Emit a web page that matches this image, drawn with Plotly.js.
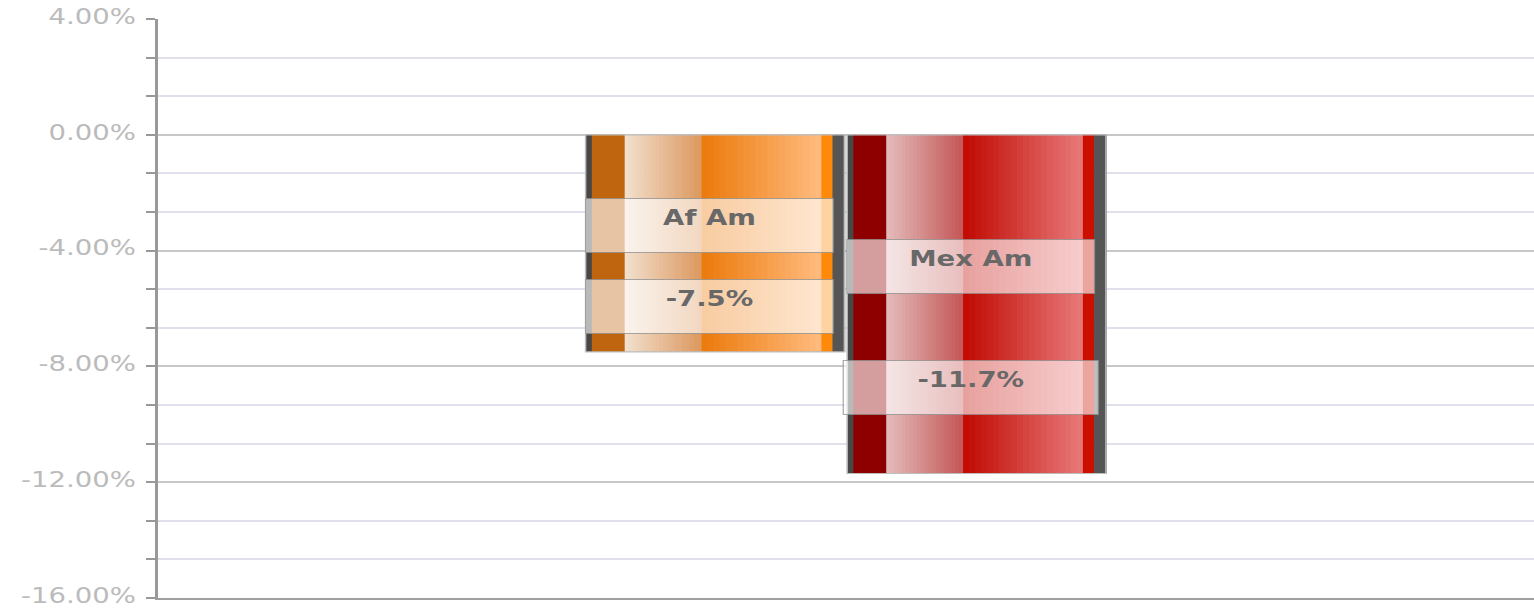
<!DOCTYPE html>
<html>
<head>
<meta charset="utf-8">
<script src="https://cdn.plot.ly/plotly-3.0.1.min.js"></script>
<style>
  html, body { margin: 0; padding: 0; background: #ffffff; overflow: hidden; }
  #chart { width: 1227px; height: 609px; transform-origin: 0 0; }
</style>
</head>
<body>
<div id="chart"></div>
<script>
// ---------------- DATA ----------------
const categories = ['Af Am', 'Mex Am'];
const values = [-7.5, -11.7];
const valueLabels = ['-7.5%', '-11.7%'];
const yTickValues = [4, 0, -4, -8, -12, -16];

// ---------------- STYLE ----------------
const STRETCH = 1534 / 1227;               // horizontal stretch of the original rendering
document.getElementById('chart').style.transform = 'scaleX(' + STRETCH + ')';

const barWidth = 0.188;
const barOffsets = [-0.189, 0.001];
// stripe layout of each bar (fractions of bar width), gradients given by from/to colours
const stripeStyles = [
  [
    {f0: 0.000, f1: 0.024, c: '#474747'},
    {f0: 0.024, f1: 0.151, c: '#c0650f'},
    {f0: 0.151, f1: 0.448, c: '#f2e0ce', c2: '#dc985e'},
    {f0: 0.448, f1: 0.911, c: '#ec790a', c2: '#ffbc80'},
    {f0: 0.911, f1: 0.954, c: '#ff8a0a'},
    {f0: 0.954, f1: 1.000, c: '#555555'}
  ],
  [
    {f0: 0.000, f1: 0.024, c: '#474747'},
    {f0: 0.024, f1: 0.151, c: '#8e0000'},
    {f0: 0.151, f1: 0.448, c: '#e4bcbc', c2: '#c45656'},
    {f0: 0.448, f1: 0.911, c: '#c00800', c2: '#e87a7a'},
    {f0: 0.911, f1: 0.954, c: '#cc1000'},
    {f0: 0.954, f1: 1.000, c: '#555555'}
  ]
];
const nameLabelFrac = [0.417, 0.388];
const valueLabelFrac = [0.79, 0.745];
const labelWidths = [[185, 185], [185, 191]];

function hexToRgb(h) {
  const n = parseInt(h.slice(1), 16);
  return [(n >> 16) & 255, (n >> 8) & 255, n & 255];
}
function lerpColor(a, b, t) {
  const A = hexToRgb(a), B = hexToRgb(b);
  const r = A.map((v, i) => Math.round(v + (B[i] - v) * t));
  return 'rgb(' + r.join(',') + ')';
}

const traces = [];
categories.forEach((cat, i) => {
  stripeStyles[i].forEach(seg => {
    const n = seg.c2 ? 20 : 1;
    for (let k = 0; k < n; k++) {
      const f0 = seg.f0 + (seg.f1 - seg.f0) * k / n;
      const f1 = seg.f0 + (seg.f1 - seg.f0) * (k + 1) / n;
      const col = seg.c2 ? lerpColor(seg.c, seg.c2, (k + 0.5) / n) : seg.c;
      traces.push({
        type: 'bar', x: [0], y: [values[i]], name: cat,
        offset: barOffsets[i] + f0 * barWidth,
        width: (f1 - f0) * barWidth + 0.0006,
        marker: {color: col, line: {width: 0}},
        hoverinfo: 'skip', showlegend: false
      });
    }
  });
  // outline
  traces.push({
    type: 'bar', x: [0], y: [values[i]], name: cat,
    offset: barOffsets[i], width: barWidth,
    marker: {color: 'rgba(0,0,0,0)', line: {color: '#bdbdbd', width: 1.2}},
    hoverinfo: 'skip', showlegend: false
  });
});

const annotations = [];
categories.forEach((cat, i) => {
  const xc = barOffsets[i] + 0.479 * barWidth;
  const common = {
    xref: 'x', yref: 'y', x: xc, showarrow: false,
    bgcolor: 'rgba(255,255,255,0.62)', bordercolor: 'rgba(140,140,140,0.75)',
    borderwidth: 1, borderpad: 6, height: 41, valign: 'top',
    font: {family: 'DejaVu Sans', size: 22, color: '#686868', weight: 'bold'}
  };
  annotations.push(Object.assign({}, common, {
    y: values[i] * nameLabelFrac[i], text: '<b>' + cat + '</b>', width: labelWidths[i][0]
  }));
  annotations.push(Object.assign({}, common, {
    y: values[i] * valueLabelFrac[i], text: '<b>' + valueLabels[i] + '</b>', width: labelWidths[i][1]
  }));
});

const layout = {
  width: 1227, height: 609,
  margin: {l: 126, r: 0, t: 19, b: 11, pad: 0},
  paper_bgcolor: '#ffffff', plot_bgcolor: '#ffffff',
  barmode: 'overlay',
  showlegend: false,
  font: {family: 'DejaVu Sans', color: '#b0b0b0'},
  xaxis: {
    type: 'linear', range: [-0.5, 0.5], fixedrange: true,
    showticklabels: false, showgrid: false, zeroline: false, ticks: '',
    showline: true, linecolor: '#a0a0a0', linewidth: 2, mirror: false
  },
  yaxis: {
    range: [-16, 4], fixedrange: true,
    tickmode: 'array', tickvals: yTickValues,
    ticktext: yTickValues.map(v => v.toFixed(2) + '%'),
    tickfont: {family: 'DejaVu Sans', size: 22, color: '#bbbbbb'},
    ticks: 'outside', ticklen: 7, tickwidth: 2, tickcolor: '#999999',
    ticklabelstandoff: 4, ticklabeloverflow: 'allow', ticklabelshift: -3,
    showgrid: true, gridcolor: '#c8c8c8', gridwidth: 2,
    zeroline: false,
    showline: true, linecolor: '#999999', linewidth: 2,
    minor: {
      dtick: 4 / 3, tick0: 0, ticks: 'outside', ticklen: 7, tickwidth: 2,
      tickcolor: '#999999', showgrid: true, gridcolor: '#e0e0ec', gridwidth: 2
    }
  },
  annotations: annotations
};

Plotly.newPlot('chart', traces, layout, {displayModeBar: false, staticPlot: true});
</script>
</body>
</html>
